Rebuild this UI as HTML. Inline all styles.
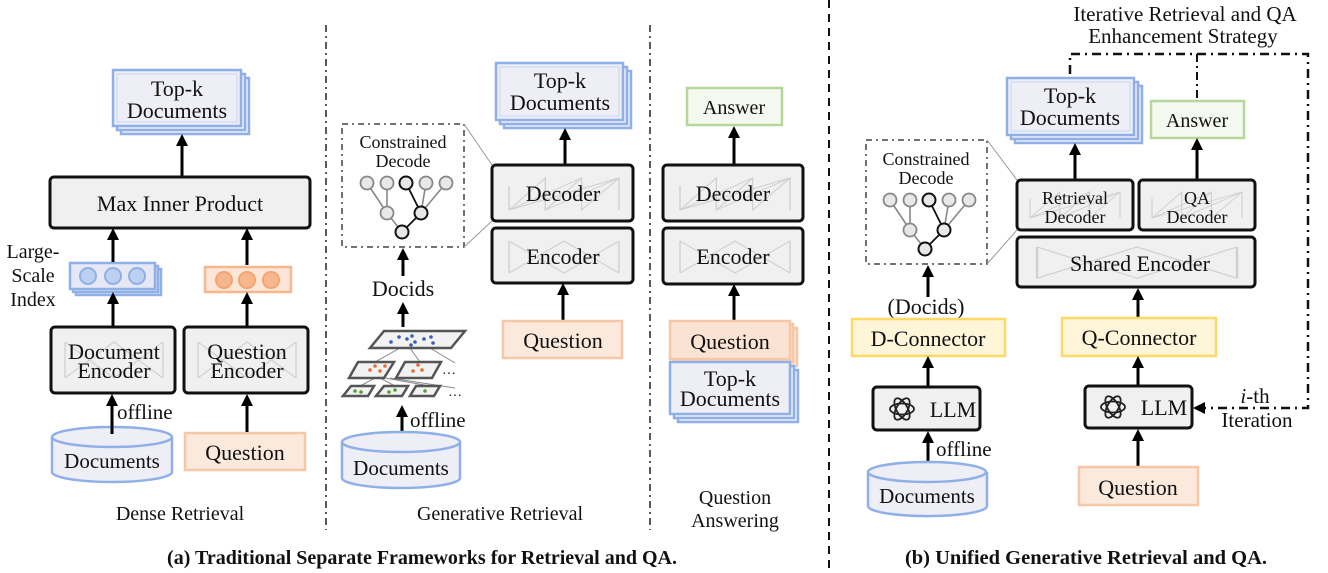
<!DOCTYPE html>
<html><head><meta charset="utf-8"><style>
html,body{margin:0;padding:0;background:#fff;}
svg{display:block;}
text{font-family:"Liberation Serif",serif;fill:#111;}
</style></head><body>
<svg width="1328" height="573" viewBox="0 0 1328 573" xmlns="http://www.w3.org/2000/svg">
<defs>
<marker id="ah" markerWidth="12" markerHeight="12" refX="4" refY="6" orient="auto" markerUnits="userSpaceOnUse">
<path d="M0,0 L12,6 L0,12 z" fill="#000"/>
</marker>
<g id="enc" stroke="#cfcfcf" stroke-width="1.2" fill="none">
<path d="M0,0 L25,20 L50,0 L75,20 L100,0 M0,40 L25,20 L50,40 L75,20 L100,40 M0,0 L0,40 M100,0 L100,40 M0,0 L50,40 L100,0 M0,40 L50,0 L100,40"/>
</g>
<g id="dec" stroke="#cfcfcf" stroke-width="1.2" fill="none">
<path d="M0,40 L33,0 L33,40 L66,0 L66,40 L100,0 L100,40 M0,40 L0,10 M0,40 L100,0 M0,40 L66,0 M33,40 L100,0"/>
</g>
<g id="tree">
<g stroke="#888" stroke-width="1.6">
<line x1="0" y1="0" x2="20" y2="30"/><line x1="20" y1="0" x2="20" y2="30"/><line x1="20" y1="30" x2="35" y2="49"/>
<line x1="59" y1="0" x2="54" y2="30"/><line x1="79" y1="0" x2="54" y2="30"/>
</g>
<g stroke="#111" stroke-width="1.8"><line x1="39" y1="0" x2="54" y2="30"/><line x1="54" y1="30" x2="35" y2="49"/></g>
<g fill="#e8e8e8" stroke="#888" stroke-width="1.8">
<circle cx="0" cy="0" r="6.5"/><circle cx="20" cy="0" r="6.5"/><circle cx="59" cy="0" r="6.5"/><circle cx="79" cy="0" r="6.5"/><circle cx="20" cy="30" r="6.5"/>
</g>
<g fill="#e8e8e8" stroke="#111" stroke-width="2"><circle cx="39" cy="0" r="6.5"/><circle cx="54" cy="30" r="6.5"/><circle cx="35" cy="49" r="6.5"/></g>
</g>
<g id="gpt" fill="none" stroke="#222" stroke-width="1.8">
<ellipse cx="0" cy="0" rx="12" ry="5.5"/><ellipse cx="0" cy="0" rx="12" ry="5.5" transform="rotate(60)"/><ellipse cx="0" cy="0" rx="12" ry="5.5" transform="rotate(120)"/>
</g>
</defs>

<!-- dividers -->
<line x1="326" y1="25" x2="326" y2="530" stroke="#222" stroke-width="1.5" stroke-dasharray="7,4,2,4"/>
<line x1="650" y1="25" x2="650" y2="530" stroke="#222" stroke-width="1.5" stroke-dasharray="7,4,2,4"/>
<line x1="829" y1="0" x2="829" y2="573" stroke="#111" stroke-width="2" stroke-dasharray="8,6"/>

<!-- ===== Dense Retrieval ===== -->
<g stroke="#8fb0e6" stroke-width="2.5" fill="#eeeef6">
<rect x="121" y="78" width="128" height="56"/><rect x="117" y="74" width="128" height="56"/><rect x="113" y="70" width="128" height="56"/>
</g>
<rect x="117" y="74" width="120" height="48" fill="none" stroke="#c8d6f0" stroke-width="1"/>
<text x="177" y="96" font-size="22" text-anchor="middle">Top-k</text>
<text x="177" y="118" font-size="22" text-anchor="middle">Documents</text>
<line x1="182" y1="176" x2="182" y2="142" stroke="#000" stroke-width="3" marker-end="url(#ah)"/>
<rect x="50" y="177" width="260" height="51" rx="4" fill="#f0f0f0" stroke="#111" stroke-width="3"/>
<text x="180" y="211" font-size="22" text-anchor="middle">Max Inner Product</text>
<text x="33" y="258" font-size="20" text-anchor="middle">Large-</text>
<text x="33" y="282" font-size="20" text-anchor="middle">Scale</text>
<text x="33" y="306" font-size="20" text-anchor="middle">Index</text>
<g stroke="#8fb0e6" stroke-width="2.5" fill="#e6e9f5">
<rect x="76" y="269" width="85" height="26"/><rect x="73" y="266" width="85" height="26"/><rect x="70" y="263" width="85" height="26"/>
</g>
<g fill="#bcd0f2" stroke="#8fb0e6" stroke-width="2"><circle cx="88" cy="276" r="8"/><circle cx="113" cy="276" r="8"/><circle cx="137" cy="276" r="8"/></g>
<rect x="205" y="267" width="86" height="25" fill="#fbe6d8" stroke="#f6b78e" stroke-width="2.5"/>
<g fill="#f6b78e" stroke="#f3a46f" stroke-width="2"><circle cx="224" cy="280" r="8"/><circle cx="247" cy="280" r="8"/><circle cx="271" cy="280" r="8"/></g>
<line x1="113" y1="262" x2="113" y2="236" stroke="#000" stroke-width="3" marker-end="url(#ah)"/>
<line x1="247" y1="265" x2="247" y2="236" stroke="#000" stroke-width="3" marker-end="url(#ah)"/>
<rect x="51" y="327" width="124" height="66" rx="4" fill="#f0f0f0" stroke="#111" stroke-width="3"/>
<use href="#enc" transform="translate(65,342) scale(0.98,0.9)"/>
<text x="114" y="359" font-size="22" text-anchor="middle">Document</text>
<text x="114" y="378" font-size="22" text-anchor="middle">Encoder</text>
<rect x="184" y="327" width="124" height="66" rx="4" fill="#f0f0f0" stroke="#111" stroke-width="3"/>
<use href="#enc" transform="translate(198,342) scale(0.98,0.9)"/>
<text x="247" y="359" font-size="22" text-anchor="middle">Question</text>
<text x="247" y="378" font-size="22" text-anchor="middle">Encoder</text>
<line x1="113" y1="326" x2="113" y2="300" stroke="#000" stroke-width="3" marker-end="url(#ah)"/>
<line x1="247" y1="326" x2="247" y2="300" stroke="#000" stroke-width="3" marker-end="url(#ah)"/>
<path d="M52,437 L52,472 A60,10 0 0 0 172,472 L172,437" fill="#eeeef6" stroke="#8fb0e6" stroke-width="2.5"/>
<ellipse cx="112" cy="437" rx="60" ry="10" fill="#eeeef6" stroke="#8fb0e6" stroke-width="2.5"/>
<text x="112" y="468" font-size="21" text-anchor="middle">Documents</text>
<line x1="112" y1="434" x2="112" y2="402" stroke="#000" stroke-width="3" marker-end="url(#ah)"/>
<text x="117" y="419" font-size="21">offline</text>
<rect x="185" y="433" width="120" height="37" fill="#fbe9dc" stroke="#f6c7a6" stroke-width="2.5"/>
<text x="245" y="460" font-size="22" text-anchor="middle">Question</text>
<line x1="247" y1="432" x2="247" y2="402" stroke="#000" stroke-width="3" marker-end="url(#ah)"/>
<text x="180" y="520" font-size="20" text-anchor="middle">Dense Retrieval</text>

<!-- ===== Generative Retrieval ===== -->
<rect x="342" y="124" width="122" height="123" fill="#fff" stroke="#444" stroke-width="1.5" stroke-dasharray="6,4,2,4"/>
<line x1="464" y1="124" x2="492" y2="165" stroke="#999" stroke-width="1"/>
<line x1="464" y1="247" x2="492" y2="221" stroke="#999" stroke-width="1"/>
<text x="403" y="148" font-size="18" text-anchor="middle">Constrained</text>
<text x="403" y="167" font-size="18" text-anchor="middle">Decode</text>
<use href="#tree" transform="translate(367,183)"/>
<line x1="403" y1="276" x2="403" y2="256" stroke="#000" stroke-width="3" marker-end="url(#ah)"/>
<text x="403" y="296" font-size="22" text-anchor="middle">Docids</text>
<line x1="403" y1="327" x2="403" y2="310" stroke="#000" stroke-width="3" marker-end="url(#ah)"/>
<g stroke="#888" stroke-width="1"><line x1="400" y1="348" x2="375" y2="362"/><line x1="410" y1="348" x2="420" y2="362"/><line x1="430" y1="348" x2="455" y2="363"/>
<line x1="375" y1="378" x2="360" y2="386"/><line x1="380" y1="378" x2="395" y2="386"/><line x1="385" y1="378" x2="430" y2="386"/><line x1="390" y1="378" x2="455" y2="388"/></g>
<g fill="#f2f2f2" stroke="#555" stroke-width="2.5">
<path d="M384,331 L465,331 L451,348 L370,348 z"/>
<path d="M358,362 L394,362 L384,378 L349,378 z"/><path d="M405,362 L441,362 L432,378 L396,378 z"/>
<path d="M351,386 L374,386 L368,396 L343,396 z"/><path d="M384,386 L408,386 L402,396 L376,396 z"/><path d="M416,386 L440,386 L434,396 L410,396 z"/>
</g>
<g fill="#3a5fb0"><circle cx="391" cy="342" r="1.8"/><circle cx="399" cy="337" r="1.8"/><circle cx="407" cy="339" r="1.8"/><circle cx="412" cy="336" r="1.8"/><circle cx="415" cy="342" r="1.8"/><circle cx="424" cy="339" r="1.8"/><circle cx="431" cy="337" r="1.8"/><circle cx="433" cy="343" r="1.8"/><circle cx="411" cy="345" r="1.8"/></g>
<g fill="#e07030"><circle cx="370" cy="370" r="1.8"/><circle cx="375" cy="366" r="1.8"/><circle cx="380" cy="371" r="1.8"/><circle cx="385" cy="366" r="1.8"/><circle cx="413" cy="371" r="1.8"/><circle cx="418" cy="365" r="1.8"/><circle cx="422" cy="370" r="1.8"/></g>
<g fill="#5a9a3a"><circle cx="355" cy="391" r="1.8"/><circle cx="361" cy="392" r="1.8"/><circle cx="389" cy="392" r="1.8"/><circle cx="395" cy="390" r="1.8"/><circle cx="425" cy="391" r="1.8"/></g>
<text x="442" y="378" font-size="14" fill="#555">···</text>
<text x="448" y="400" font-size="14" fill="#555">···</text>
<line x1="402" y1="438" x2="402" y2="413" stroke="#000" stroke-width="3" marker-end="url(#ah)"/>
<text x="410" y="427" font-size="21">offline</text>
<path d="M342,442 L342,478 A59,10 0 0 0 460,478 L460,442" fill="#eeeef6" stroke="#8fb0e6" stroke-width="2.5"/>
<ellipse cx="401" cy="442" rx="59" ry="10" fill="#eeeef6" stroke="#8fb0e6" stroke-width="2.5"/>
<text x="401" y="475" font-size="21" text-anchor="middle">Documents</text>

<g stroke="#8fb0e6" stroke-width="2.5" fill="#eeeef6">
<rect x="504" y="71" width="127" height="57"/><rect x="500" y="67" width="127" height="57"/><rect x="496" y="63" width="127" height="57"/>
</g>
<rect x="500" y="67" width="119" height="49" fill="none" stroke="#c8d6f0" stroke-width="1"/>
<text x="560" y="88" font-size="22" text-anchor="middle">Top-k</text>
<text x="560" y="110" font-size="22" text-anchor="middle">Documents</text>
<line x1="565" y1="165" x2="565" y2="136" stroke="#000" stroke-width="3" marker-end="url(#ah)"/>
<rect x="492" y="165" width="141" height="56" rx="4" fill="#f0f0f0" stroke="#111" stroke-width="3"/>
<use href="#dec" transform="translate(509,178) scale(1.1,0.8)"/>
<text x="563" y="201" font-size="22" text-anchor="middle">Decoder</text>
<rect x="492" y="228" width="141" height="55" rx="4" fill="#f0f0f0" stroke="#111" stroke-width="3"/>
<use href="#enc" transform="translate(509,241) scale(1.1,0.8)"/>
<text x="563" y="264" font-size="22" text-anchor="middle">Encoder</text>
<line x1="563" y1="320" x2="563" y2="291" stroke="#000" stroke-width="3" marker-end="url(#ah)"/>
<rect x="503" y="321" width="119" height="37" fill="#fbe9dc" stroke="#f6c7a6" stroke-width="2.5"/>
<text x="563" y="348" font-size="22" text-anchor="middle">Question</text>
<text x="500" y="520" font-size="20" text-anchor="middle">Generative Retrieval</text>

<!-- ===== QA ===== -->
<rect x="687" y="88" width="95" height="37" fill="#f4f8ef" stroke="#b5d89a" stroke-width="2.5"/>
<text x="734" y="114" font-size="20" text-anchor="middle">Answer</text>
<line x1="734" y1="164" x2="734" y2="134" stroke="#000" stroke-width="3" marker-end="url(#ah)"/>
<rect x="663" y="165" width="140" height="56" rx="4" fill="#f0f0f0" stroke="#111" stroke-width="3"/>
<use href="#dec" transform="translate(680,178) scale(1.1,0.8)"/>
<text x="733" y="201" font-size="22" text-anchor="middle">Decoder</text>
<rect x="663" y="228" width="140" height="56" rx="4" fill="#f0f0f0" stroke="#111" stroke-width="3"/>
<use href="#enc" transform="translate(680,241) scale(1.1,0.8)"/>
<text x="733" y="264" font-size="22" text-anchor="middle">Encoder</text>
<line x1="734" y1="320" x2="734" y2="292" stroke="#000" stroke-width="3" marker-end="url(#ah)"/>
<g stroke="#f6c7a6" stroke-width="2.5" fill="#fbe3d3">
<rect x="677" y="328" width="120" height="38"/><rect x="673" y="324" width="120" height="38"/><rect x="670" y="321" width="120" height="38"/>
</g>
<text x="730" y="349" font-size="22" text-anchor="middle">Question</text>
<g stroke="#8fb0e6" stroke-width="2.5" fill="#eeeef6">
<rect x="678" y="370" width="120" height="52"/><rect x="674" y="366" width="120" height="52"/><rect x="670" y="362" width="120" height="52"/>
</g>
<text x="730" y="386" font-size="22" text-anchor="middle">Top-k</text>
<text x="730" y="406" font-size="22" text-anchor="middle">Documents</text>
<text x="735" y="504" font-size="20" text-anchor="middle">Question</text>
<text x="735" y="527" font-size="20" text-anchor="middle">Answering</text>

<text x="422" y="564" font-size="20" font-weight="bold" text-anchor="middle">(a) Traditional Separate Frameworks for Retrieval and QA.</text>

<!-- ===== Unified ===== -->
<text x="1185" y="21" font-size="21" text-anchor="middle">Iterative Retrieval and QA</text>
<text x="1183" y="43" font-size="21" text-anchor="middle">Enhancement Strategy</text>
<path d="M1070,74 L1070,54 L1308,54 L1308,408 L1205,408" fill="none" stroke="#111" stroke-width="2.5" stroke-dasharray="9,5,2,5"/>
<line x1="1197" y1="54" x2="1197" y2="100" stroke="#111" stroke-width="2" stroke-dasharray="8,4,2,4"/>
<path d="M1193,408 L1205,402 L1205,414 z" fill="#000"/>

<rect x="866" y="140" width="121" height="124" fill="#fff" stroke="#444" stroke-width="1.5" stroke-dasharray="6,4,2,4"/>
<line x1="987" y1="140" x2="1017" y2="180" stroke="#999" stroke-width="1"/>
<line x1="987" y1="264" x2="1017" y2="230" stroke="#999" stroke-width="1"/>
<text x="926" y="165" font-size="18" text-anchor="middle">Constrained</text>
<text x="926" y="184" font-size="18" text-anchor="middle">Decode</text>
<use href="#tree" transform="translate(890,200)"/>
<line x1="928" y1="297" x2="928" y2="273" stroke="#000" stroke-width="3" marker-end="url(#ah)"/>
<text x="926" y="314" font-size="22" text-anchor="middle">(Docids)</text>
<rect x="852" y="319" width="153" height="37" fill="#fff5d9" stroke="#ffd966" stroke-width="2.5"/>
<text x="928" y="346" font-size="22" text-anchor="middle">D-Connector</text>
<line x1="928" y1="386" x2="928" y2="364" stroke="#000" stroke-width="3" marker-end="url(#ah)"/>
<rect x="873" y="387" width="107" height="43" rx="4" fill="#f0f0f0" stroke="#111" stroke-width="3"/>
<use href="#gpt" transform="translate(902,409)"/>
<text x="953" y="417" font-size="22" text-anchor="middle">LLM</text>
<line x1="928" y1="468" x2="928" y2="439" stroke="#000" stroke-width="3" marker-end="url(#ah)"/>
<text x="936" y="456" font-size="21">offline</text>
<path d="M868,472 L868,506 A59,10 0 0 0 987,506 L987,472" fill="#eeeef6" stroke="#8fb0e6" stroke-width="2.5"/>
<ellipse cx="927" cy="472" rx="59" ry="10" fill="#eeeef6" stroke="#8fb0e6" stroke-width="2.5"/>
<text x="927" y="503" font-size="21" text-anchor="middle">Documents</text>

<g stroke="#8fb0e6" stroke-width="2.5" fill="#eeeef6">
<rect x="1015" y="86" width="127" height="57"/><rect x="1011" y="82" width="127" height="57"/><rect x="1007" y="78" width="127" height="57"/>
</g>
<rect x="1011" y="82" width="119" height="49" fill="none" stroke="#c8d6f0" stroke-width="1"/>
<text x="1070" y="103" font-size="22" text-anchor="middle">Top-k</text>
<text x="1070" y="125" font-size="22" text-anchor="middle">Documents</text>
<rect x="1151" y="101" width="93" height="37" fill="#f4f8ef" stroke="#b5d89a" stroke-width="2.5"/>
<text x="1197" y="127" font-size="20" text-anchor="middle">Answer</text>
<line x1="1075" y1="179" x2="1075" y2="151" stroke="#000" stroke-width="3" marker-end="url(#ah)"/>
<line x1="1197" y1="179" x2="1197" y2="146" stroke="#000" stroke-width="3" marker-end="url(#ah)"/>
<rect x="1017" y="180" width="116" height="50" rx="4" fill="#f0f0f0" stroke="#111" stroke-width="3"/>
<use href="#dec" transform="translate(1030,192) scale(0.9,0.65)"/>
<text x="1075" y="204" font-size="18" text-anchor="middle">Retrieval</text>
<text x="1075" y="223" font-size="18" text-anchor="middle">Decoder</text>
<rect x="1139" y="180" width="116" height="50" rx="4" fill="#f0f0f0" stroke="#111" stroke-width="3"/>
<use href="#dec" transform="translate(1152,192) scale(0.9,0.65)"/>
<text x="1197" y="204" font-size="18" text-anchor="middle">QA</text>
<text x="1197" y="223" font-size="18" text-anchor="middle">Decoder</text>
<rect x="1017" y="237" width="238" height="50" rx="4" fill="#f0f0f0" stroke="#111" stroke-width="3"/>
<use href="#enc" transform="translate(1037,247) scale(2,0.78)"/>
<text x="1140" y="271" font-size="22" text-anchor="middle">Shared Encoder</text>
<line x1="1138" y1="318" x2="1138" y2="296" stroke="#000" stroke-width="3" marker-end="url(#ah)"/>
<rect x="1062" y="318" width="154" height="38" fill="#fff5d9" stroke="#ffd966" stroke-width="2.5"/>
<text x="1139" y="345" font-size="22" text-anchor="middle">Q-Connector</text>
<line x1="1138" y1="385" x2="1138" y2="364" stroke="#000" stroke-width="3" marker-end="url(#ah)"/>
<rect x="1085" y="386" width="107" height="42" rx="4" fill="#f0f0f0" stroke="#111" stroke-width="3"/>
<use href="#gpt" transform="translate(1113,407)"/>
<text x="1164" y="415" font-size="22" text-anchor="middle">LLM</text>
<line x1="1138" y1="467" x2="1138" y2="437" stroke="#000" stroke-width="3" marker-end="url(#ah)"/>
<rect x="1079" y="467" width="119" height="38" fill="#fbe9dc" stroke="#f6c7a6" stroke-width="2.5"/>
<text x="1138" y="495" font-size="22" text-anchor="middle">Question</text>
<text x="1255" y="403" font-size="21" text-anchor="middle"><tspan font-style="italic">i</tspan>-th</text>
<text x="1257" y="427" font-size="21" text-anchor="middle">Iteration</text>

<text x="1086" y="564" font-size="20.5" font-weight="bold" text-anchor="middle">(b) Unified Generative Retrieval and QA.</text>
</svg>
</body></html>
